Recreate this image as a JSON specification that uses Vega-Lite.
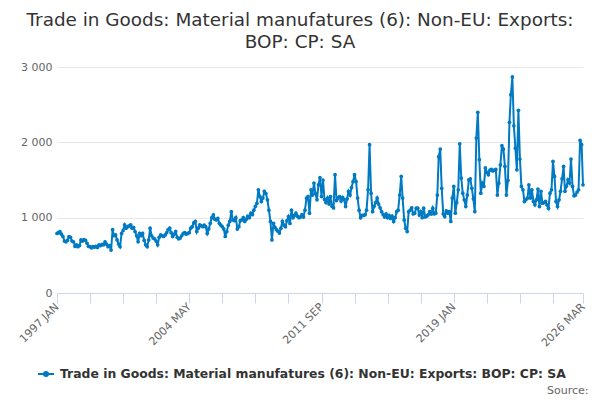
{
"$schema": "https://vega.github.io/schema/vega-lite/v6.json",
"width": 526, "height": 226,
"autosize": {"type": "none"},
"padding": {"left": 57, "top": 67, "right": 17, "bottom": 107},
"background": "white",
"config": {"font": "DejaVu Sans", "view": {"stroke": null}},
"title": {"text": ["Trade in Goods: Material manufatures (6): Non-EU: Exports:", "BOP: CP: SA"], "fontSize": 18.4, "fontWeight": "normal", "color": "#333333", "lineHeight": 22, "anchor": "middle", "frame": "group", "dx": -20, "offset": 10},
"data": {"values": [
{"date":"1997-01","value":790},{"date":"1997-02","value":800},{"date":"1997-03","value":815},{"date":"1997-04","value":780},{"date":"1997-05","value":750},{"date":"1997-06","value":690},{"date":"1997-07","value":680},{"date":"1997-08","value":700},{"date":"1997-09","value":750},{"date":"1997-10","value":740},{"date":"1997-11","value":690},{"date":"1997-12","value":680},
{"date":"1998-01","value":620},{"date":"1998-02","value":640},{"date":"1998-03","value":615},{"date":"1998-04","value":630},{"date":"1998-05","value":705},{"date":"1998-06","value":690},{"date":"1998-07","value":710},{"date":"1998-08","value":700},{"date":"1998-09","value":660},{"date":"1998-10","value":620},{"date":"1998-11","value":615},{"date":"1998-12","value":600},
{"date":"1999-01","value":615},{"date":"1999-02","value":610},{"date":"1999-03","value":620},{"date":"1999-04","value":605},{"date":"1999-05","value":640},{"date":"1999-06","value":630},{"date":"1999-07","value":645},{"date":"1999-08","value":640},{"date":"1999-09","value":680},{"date":"1999-10","value":650},{"date":"1999-11","value":615},{"date":"1999-12","value":630},
{"date":"2000-01","value":570},{"date":"2000-02","value":840},{"date":"2000-03","value":760},{"date":"2000-04","value":770},{"date":"2000-05","value":705},{"date":"2000-06","value":650},{"date":"2000-07","value":615},{"date":"2000-08","value":790},{"date":"2000-09","value":830},{"date":"2000-10","value":905},{"date":"2000-11","value":860},{"date":"2000-12","value":880},
{"date":"2001-01","value":890},{"date":"2001-02","value":905},{"date":"2001-03","value":860},{"date":"2001-04","value":870},{"date":"2001-05","value":815},{"date":"2001-06","value":760},{"date":"2001-07","value":680},{"date":"2001-08","value":790},{"date":"2001-09","value":760},{"date":"2001-10","value":790},{"date":"2001-11","value":700},{"date":"2001-12","value":640},
{"date":"2002-01","value":615},{"date":"2002-02","value":705},{"date":"2002-03","value":860},{"date":"2002-04","value":760},{"date":"2002-05","value":730},{"date":"2002-06","value":720},{"date":"2002-07","value":690},{"date":"2002-08","value":640},{"date":"2002-09","value":740},{"date":"2002-10","value":770},{"date":"2002-11","value":760},{"date":"2002-12","value":750},
{"date":"2003-01","value":770},{"date":"2003-02","value":800},{"date":"2003-03","value":840},{"date":"2003-04","value":860},{"date":"2003-05","value":800},{"date":"2003-06","value":750},{"date":"2003-07","value":780},{"date":"2003-08","value":815},{"date":"2003-09","value":740},{"date":"2003-10","value":720},{"date":"2003-11","value":730},{"date":"2003-12","value":760},
{"date":"2004-01","value":790},{"date":"2004-02","value":800},{"date":"2004-03","value":780},{"date":"2004-04","value":790},{"date":"2004-05","value":800},{"date":"2004-06","value":860},{"date":"2004-07","value":880},{"date":"2004-08","value":930},{"date":"2004-09","value":950},{"date":"2004-10","value":815},{"date":"2004-11","value":860},{"date":"2004-12","value":905},
{"date":"2005-01","value":890},{"date":"2005-02","value":880},{"date":"2005-03","value":900},{"date":"2005-04","value":880},{"date":"2005-05","value":790},{"date":"2005-06","value":850},{"date":"2005-07","value":925},{"date":"2005-08","value":1000},{"date":"2005-09","value":1037},{"date":"2005-10","value":980},{"date":"2005-11","value":970},{"date":"2005-12","value":990},
{"date":"2006-01","value":925},{"date":"2006-02","value":900},{"date":"2006-03","value":880},{"date":"2006-04","value":850},{"date":"2006-05","value":750},{"date":"2006-06","value":815},{"date":"2006-07","value":900},{"date":"2006-08","value":950},{"date":"2006-09","value":1080},{"date":"2006-10","value":970},{"date":"2006-11","value":960},{"date":"2006-12","value":1000},
{"date":"2007-01","value":850},{"date":"2007-02","value":880},{"date":"2007-03","value":960},{"date":"2007-04","value":970},{"date":"2007-05","value":1000},{"date":"2007-06","value":950},{"date":"2007-07","value":980},{"date":"2007-08","value":1020},{"date":"2007-09","value":1000},{"date":"2007-10","value":1060},{"date":"2007-11","value":1040},{"date":"2007-12","value":1100},
{"date":"2008-01","value":1150},{"date":"2008-02","value":1190},{"date":"2008-03","value":1370},{"date":"2008-04","value":1280},{"date":"2008-05","value":1215},{"date":"2008-06","value":1260},{"date":"2008-07","value":1348},{"date":"2008-08","value":1320},{"date":"2008-09","value":1237},{"date":"2008-10","value":1100},{"date":"2008-11","value":950},{"date":"2008-12","value":705},
{"date":"2009-01","value":925},{"date":"2009-02","value":870},{"date":"2009-03","value":840},{"date":"2009-04","value":820},{"date":"2009-05","value":795},{"date":"2009-06","value":860},{"date":"2009-07","value":950},{"date":"2009-08","value":900},{"date":"2009-09","value":880},{"date":"2009-10","value":960},{"date":"2009-11","value":1015},{"date":"2009-12","value":923},
{"date":"2010-01","value":1100},{"date":"2010-02","value":1000},{"date":"2010-03","value":1030},{"date":"2010-04","value":1060},{"date":"2010-05","value":1020},{"date":"2010-06","value":1000},{"date":"2010-07","value":1010},{"date":"2010-08","value":1040},{"date":"2010-09","value":1010},{"date":"2010-10","value":1100},{"date":"2010-11","value":1260},{"date":"2010-12","value":1280},
{"date":"2011-01","value":1060},{"date":"2011-02","value":1370},{"date":"2011-03","value":1300},{"date":"2011-04","value":1460},{"date":"2011-05","value":1320},{"date":"2011-06","value":1237},{"date":"2011-07","value":1436},{"date":"2011-08","value":1530},{"date":"2011-09","value":1280},{"date":"2011-10","value":1500},{"date":"2011-11","value":1240},{"date":"2011-12","value":1200},
{"date":"2012-01","value":1260},{"date":"2012-02","value":1180},{"date":"2012-03","value":1280},{"date":"2012-04","value":1150},{"date":"2012-05","value":1130},{"date":"2012-06","value":1570},{"date":"2012-07","value":1230},{"date":"2012-08","value":1260},{"date":"2012-09","value":1280},{"date":"2012-10","value":1220},{"date":"2012-11","value":1270},{"date":"2012-12","value":1240},
{"date":"2013-01","value":1148},{"date":"2013-02","value":1250},{"date":"2013-03","value":1348},{"date":"2013-04","value":1300},{"date":"2013-05","value":1400},{"date":"2013-06","value":1480},{"date":"2013-07","value":1570},{"date":"2013-08","value":1480},{"date":"2013-09","value":1260},{"date":"2013-10","value":1100},{"date":"2013-11","value":1000},{"date":"2013-12","value":1030},
{"date":"2014-01","value":1030},{"date":"2014-02","value":1040},{"date":"2014-03","value":1100},{"date":"2014-04","value":1370},{"date":"2014-05","value":1968},{"date":"2014-06","value":1325},{"date":"2014-07","value":1080},{"date":"2014-08","value":1150},{"date":"2014-09","value":1200},{"date":"2014-10","value":1260},{"date":"2014-11","value":1180},{"date":"2014-12","value":1130},
{"date":"2015-01","value":1080},{"date":"2015-02","value":1040},{"date":"2015-03","value":1010},{"date":"2015-04","value":1050},{"date":"2015-05","value":1000},{"date":"2015-06","value":1030},{"date":"2015-07","value":990},{"date":"2015-08","value":1020},{"date":"2015-09","value":950},{"date":"2015-10","value":1000},{"date":"2015-11","value":1080},{"date":"2015-12","value":1100},
{"date":"2016-01","value":1300},{"date":"2016-02","value":1547},{"date":"2016-03","value":1260},{"date":"2016-04","value":970},{"date":"2016-05","value":860},{"date":"2016-06","value":815},{"date":"2016-07","value":1080},{"date":"2016-08","value":1100},{"date":"2016-09","value":1130},{"date":"2016-10","value":1050},{"date":"2016-11","value":1060},{"date":"2016-12","value":1126},
{"date":"2017-01","value":1126},{"date":"2017-02","value":1037},{"date":"2017-03","value":1080},{"date":"2017-04","value":1000},{"date":"2017-05","value":1126},{"date":"2017-06","value":1010},{"date":"2017-07","value":1020},{"date":"2017-08","value":1040},{"date":"2017-09","value":1080},{"date":"2017-10","value":1050},{"date":"2017-11","value":1126},{"date":"2017-12","value":1050},
{"date":"2018-01","value":1060},{"date":"2018-02","value":1300},{"date":"2018-03","value":1810},{"date":"2018-04","value":1910},{"date":"2018-05","value":1390},{"date":"2018-06","value":1050},{"date":"2018-07","value":1015},{"date":"2018-08","value":1090},{"date":"2018-09","value":1060},{"date":"2018-10","value":1080},{"date":"2018-11","value":950},{"date":"2018-12","value":1260},
{"date":"2019-01","value":1415},{"date":"2019-02","value":1060},{"date":"2019-03","value":1200},{"date":"2019-04","value":1370},{"date":"2019-05","value":1980},{"date":"2019-06","value":1525},{"date":"2019-07","value":1325},{"date":"2019-08","value":1237},{"date":"2019-09","value":1148},{"date":"2019-10","value":1300},{"date":"2019-11","value":1502},{"date":"2019-12","value":1515},
{"date":"2020-01","value":1390},{"date":"2020-02","value":1250},{"date":"2020-03","value":1080},{"date":"2020-04","value":2057},{"date":"2020-05","value":2398},{"date":"2020-06","value":1770},{"date":"2020-07","value":1325},{"date":"2020-08","value":1460},{"date":"2020-09","value":1415},{"date":"2020-10","value":1660},{"date":"2020-11","value":1600},{"date":"2020-12","value":1570},
{"date":"2021-01","value":1630},{"date":"2021-02","value":1640},{"date":"2021-03","value":1620},{"date":"2021-04","value":1630},{"date":"2021-05","value":1640},{"date":"2021-06","value":1300},{"date":"2021-07","value":1460},{"date":"2021-08","value":1700},{"date":"2021-09","value":1955},{"date":"2021-10","value":1910},{"date":"2021-11","value":1680},{"date":"2021-12","value":1300},
{"date":"2022-01","value":1495},{"date":"2022-02","value":2265},{"date":"2022-03","value":2633},{"date":"2022-04","value":2868},{"date":"2022-05","value":2220},{"date":"2022-06","value":1923},{"date":"2022-07","value":1636},{"date":"2022-08","value":2425},{"date":"2022-09","value":1778},{"date":"2022-10","value":1415},{"date":"2022-11","value":1370},{"date":"2022-12","value":1215},
{"date":"2023-01","value":1240},{"date":"2023-02","value":1260},{"date":"2023-03","value":1436},{"date":"2023-04","value":1260},{"date":"2023-05","value":1370},{"date":"2023-06","value":1215},{"date":"2023-07","value":1170},{"date":"2023-08","value":1237},{"date":"2023-09","value":1380},{"date":"2023-10","value":1148},{"date":"2023-11","value":1350},{"date":"2023-12","value":1193},
{"date":"2024-01","value":1200},{"date":"2024-02","value":1215},{"date":"2024-03","value":1170},{"date":"2024-04","value":1126},{"date":"2024-05","value":1325},{"date":"2024-06","value":1370},{"date":"2024-07","value":1746},{"date":"2024-08","value":1547},{"date":"2024-09","value":1215},{"date":"2024-10","value":1148},{"date":"2024-11","value":1237},{"date":"2024-12","value":1350},
{"date":"2025-01","value":1515},{"date":"2025-02","value":1680},{"date":"2025-03","value":1350},{"date":"2025-04","value":1420},{"date":"2025-05","value":1502},{"date":"2025-06","value":1460},{"date":"2025-07","value":1778},{"date":"2025-08","value":1415},{"date":"2025-09","value":1290},{"date":"2025-10","value":1300},{"date":"2025-11","value":1340},{"date":"2025-12","value":1370},
{"date":"2026-01","value":2025},{"date":"2026-02","value":1968},{"date":"2026-03","value":1436}
]},
"encoding": {
  "x": {"field": "date", "type": "temporal",
    "scale": {"type": "utc", "nice": false, "domain": [{"year": 1997, "month": 1, "utc": true}, {"year": 2026, "month": 3, "utc": true}]},
    "axis": {
      "values": [
        {"year":1997,"month":1,"utc":true},{"year":1998,"month":11,"utc":true},{"year":2000,"month":9,"utc":true},{"year":2002,"month":7,"utc":true},
        {"year":2004,"month":5,"utc":true},{"year":2006,"month":3,"utc":true},{"year":2008,"month":1,"utc":true},{"year":2009,"month":11,"utc":true},
        {"year":2011,"month":9,"utc":true},{"year":2013,"month":7,"utc":true},{"year":2015,"month":5,"utc":true},{"year":2017,"month":3,"utc":true},
        {"year":2019,"month":1,"utc":true},{"year":2020,"month":11,"utc":true},{"year":2022,"month":9,"utc":true},{"year":2024,"month":7,"utc":true},
        {"year":2026,"month":3,"utc":true}
      ],
      "labelExpr": "indexof(['1997-01','2004-05','2011-09','2019-01','2026-03'], utcFormat(datum.value, '%Y-%m')) >= 0 ? upper(utcFormat(datum.value, '%Y %b')) : ''",
      "labelAngle": -45, "labelAlign": "right", "labelBaseline": "middle", "labelPadding": 2,
      "labelFontSize": 11, "labelColor": "#666666", "labelOverlap": false, "labelFlush": false,
      "domainColor": "#ccd6eb", "tickColor": "#ccd6eb", "tickSize": 10, "grid": false,
      "title": "Source:", "titleX": 531, "titleY": 100, "titleAlign": "right", "titleAnchor": null, "titleBaseline": "alphabetic",
      "titleFontSize": 11, "titleFontWeight": "normal", "titleColor": "#666666"
    }},
  "y": {"field": "value", "type": "quantitative",
    "scale": {"domain": [0, 3000], "nice": false},
    "axis": {"values": [0, 1000, 2000, 3000], "labelExpr": "replace(format(datum.value, ','), ',', ' ')",
      "domain": false, "ticks": false, "gridColor": "#e6e6e6", "labelColor": "#666666", "labelFontSize": 11, "labelPadding": 5, "title": null}},
  "color": {"datum": "Trade in Goods: Material manufatures (6): Non-EU: Exports: BOP: CP: SA", "type": "nominal",
    "scale": {"range": ["#007ac3"]},
    "legend": {"orient": "none", "legendX": -20, "legendY": 298, "title": null,
      "labelFontSize": 12.4, "labelFontWeight": "bold", "labelColor": "#333333", "labelLimit": 0, "labelOffset": 5,
      "symbolType": "M-1,0L1,0M-0.25,0A0.25,0.25 0 1,1 0.25,0A0.25,0.25 0 1,1 -0.25,0",
      "symbolSize": 256, "symbolStrokeWidth": 2, "symbolFillColor": "#007ac3", "symbolStrokeColor": "#007ac3"}}
},
"layer": [
  {"mark": {"type": "line", "strokeWidth": 2}},
  {"mark": {"type": "point", "filled": true, "size": 14, "opacity": 1}}
]
}
